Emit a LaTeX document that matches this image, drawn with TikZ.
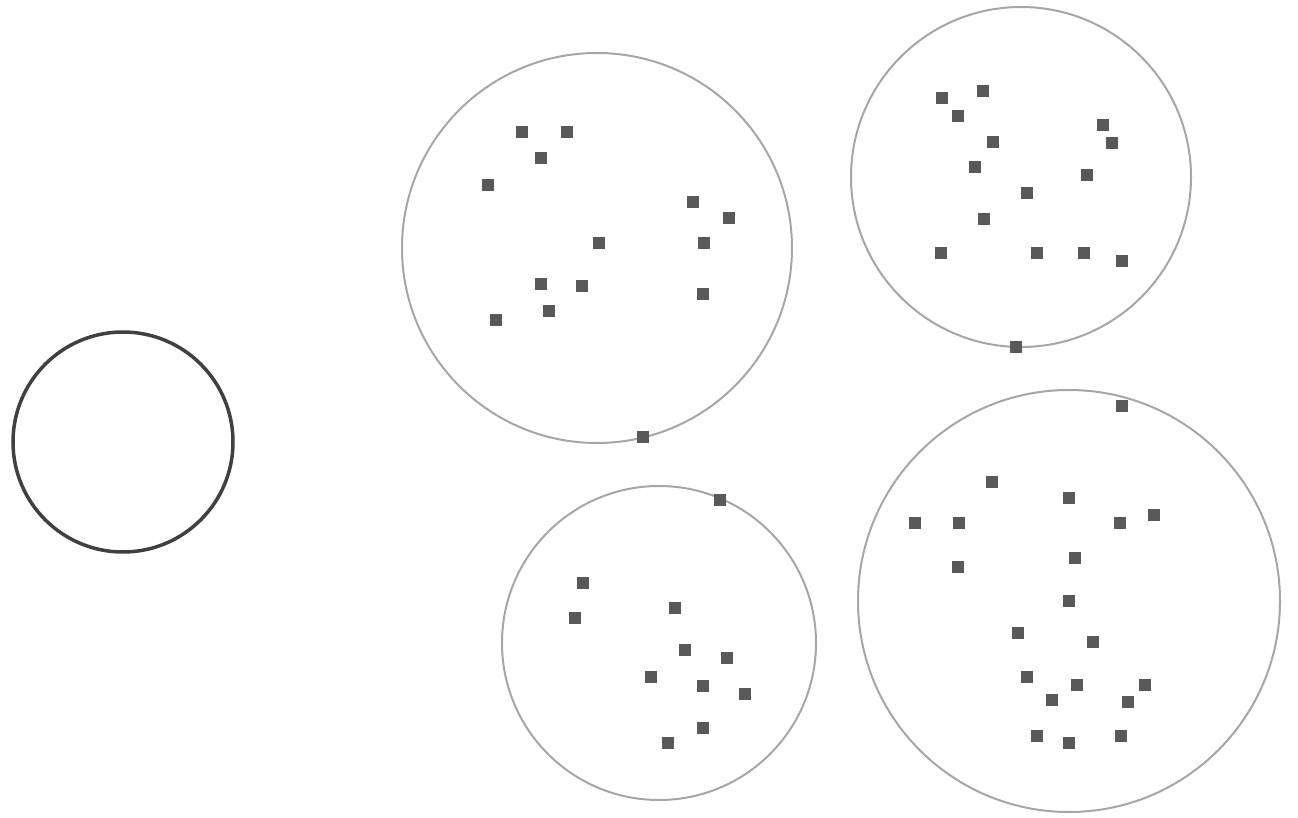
\documentclass[tikz,border=0pt]{standalone}
\begin{document}
\begin{tikzpicture}[x=1pt,y=-1pt,
  ring/.style={circle,draw=black!35,line width=2pt,inner sep=0pt},
  darkring/.style={circle,draw=black!75,line width=3.5pt,inner sep=0pt},
  dotmark/.style={rectangle,fill=black!65,inner sep=0pt,minimum size=12pt}]
\useasboundingbox (0,0) rectangle (1298,818);
\node[darkring,minimum size=220pt] (c0) at (123,442) {};
\node[ring,minimum size=390pt] (cA) at (597,248) {};
\node[ring,minimum size=340pt] (cB) at (1021,177) {};
\node[ring,minimum size=314pt] (cC) at (659,643) {};
\node[ring,minimum size=422pt] (cD) at (1069,601) {};
% cluster A
\foreach \x/\y [count=\i] in {522/132,567/132,541/158,488/185,693/202,729/218,599/243,704/243,541/284,582/286,549/311,496/320,703/294,643/437}
  \node[dotmark] (a\i) at (\x,\y) {};
% cluster B
\foreach \x/\y [count=\i] in {942/98,983/91,958/116,993/142,975/167,1103/125,1112/143,1087/175,1027/193,984/219,941/253,1037/253,1084/253,1122/261,1016/347}
  \node[dotmark] (b\i) at (\x,\y) {};
% cluster C
\foreach \x/\y [count=\i] in {720/500,583/583,575/618,675/608,685/650,727/658,651/677,703/686,745/694,703/728,668/743}
  \node[dotmark] (k\i) at (\x,\y) {};
% cluster D
\foreach \x/\y [count=\i] in {1122/406,992/482,1069/498,915/523,959/523,1120/523,1154/515,958/567,1075/558,1069/601,1018/633,1093/642,1027/677,1077/685,1145/685,1052/700,1128/702,1037/736,1069/743,1121/736}
  \node[dotmark] (d\i) at (\x,\y) {};
\end{tikzpicture}
\end{document}
